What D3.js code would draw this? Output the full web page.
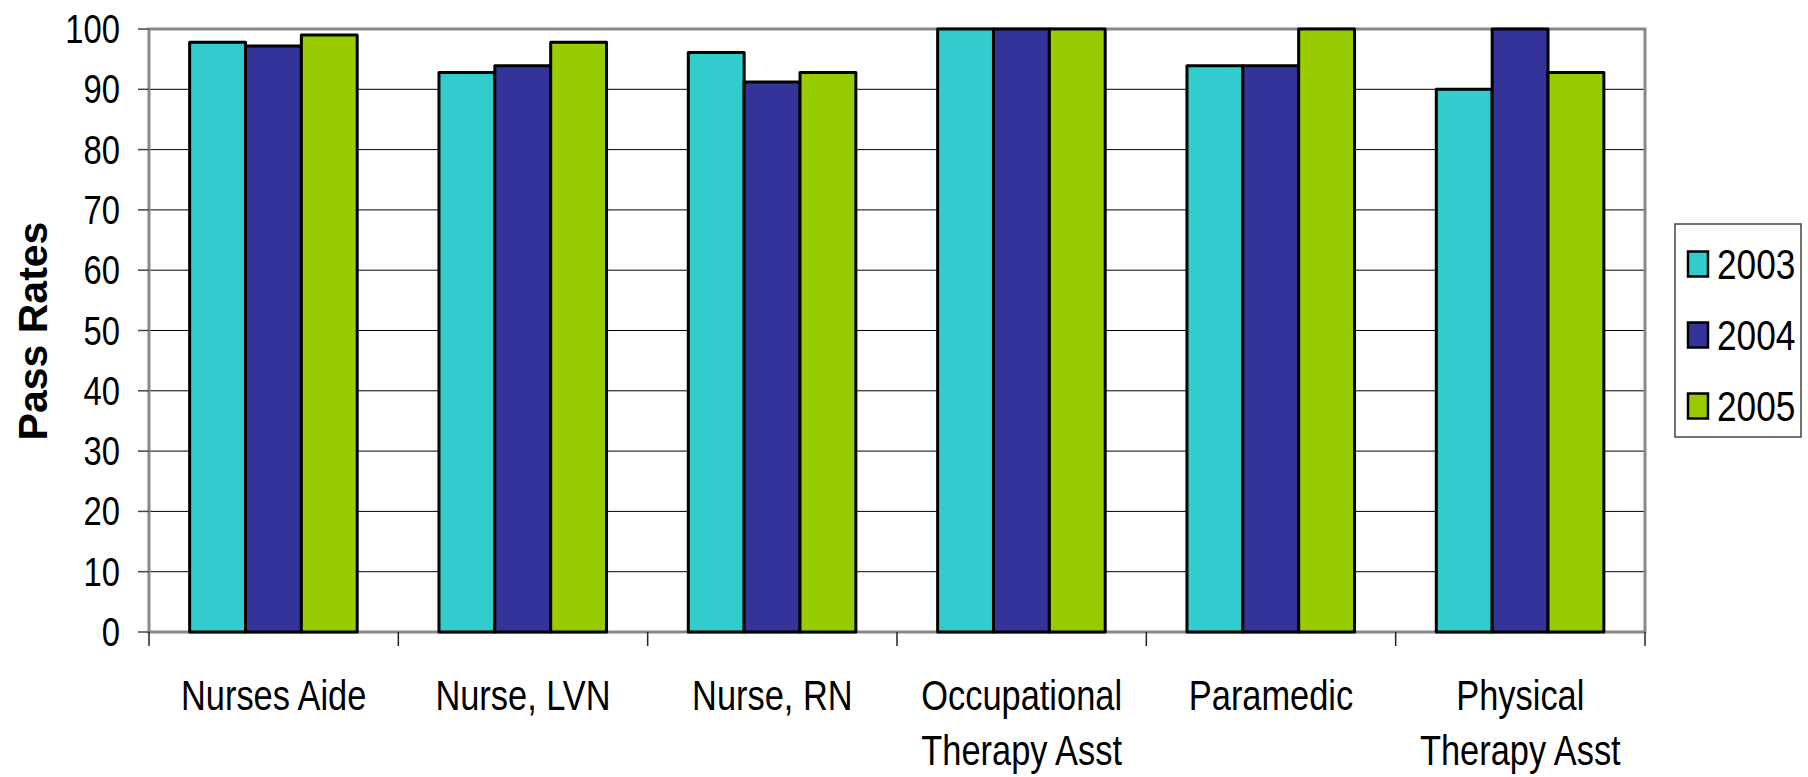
<!DOCTYPE html>
<html>
<head>
<meta charset="utf-8">
<script src="https://cdn.jsdelivr.net/npm/d3@7"></script>
<style>
  html, body { margin: 0; padding: 0; background: #fff; }
  svg { display: block; font-family: "Liberation Sans", Arial, sans-serif; }
</style>
</head>
<body>
<svg id="chart" width="1808" height="777"></svg>
<script>
const categories = [
  ["Nurses Aide"],
  ["Nurse, LVN"],
  ["Nurse, RN"],
  ["Occupational", "Therapy Asst"],
  ["Paramedic"],
  ["Physical", "Therapy Asst"]
];
const seriesNames = ["2003", "2004", "2005"];
const values2003 = [97.8, 92.8, 96.1, 100, 93.9, 90.0];
const values2004 = [97.2, 93.9, 91.2, 100, 93.9, 100];
const values2005 = [99.0, 97.8, 92.8, 100, 100, 92.8];
const seriesValues = [values2003, values2004, values2005];
const colors = ["#33CCCC", "#333399", "#99CC00"];
const yTicks = [0, 10, 20, 30, 40, 50, 60, 70, 80, 90, 100];
const yTitle = "Pass Rates";

const svg = d3.select("#chart");
const pLeft = 149, pRight = 1645, pTop = 29, pBottom = 632;

const catKeys = categories.map(c => c.join(" "));
const x0 = d3.scaleBand().domain(catKeys).range([pLeft, pRight]).padding(0);
const bw = x0.bandwidth();
const x1 = d3.scaleBand().domain(seriesNames).range([bw * 0.163, bw * 0.835]).padding(0);
const y = d3.scaleLinear().domain([0, 100]).range([pBottom, pTop]);

// gridlines
svg.append("g").selectAll("line").data(yTicks.filter(t => t > 0 && t < 100)).join("line")
  .attr("x1", pLeft).attr("x2", pRight)
  .attr("y1", d => y(d)).attr("y2", d => y(d))
  .attr("stroke", "#000").attr("stroke-width", 1);

// plot frame
svg.append("rect").attr("x", pLeft).attr("y", pTop)
  .attr("width", pRight - pLeft).attr("height", pBottom - pTop)
  .attr("fill", "none").attr("stroke", "#888").attr("stroke-width", 3);

// y ticks
svg.append("g").selectAll("line").data(yTicks).join("line")
  .attr("x1", pLeft - 11).attr("x2", pLeft)
  .attr("y1", d => y(d)).attr("y2", d => y(d))
  .attr("stroke", "#444").attr("stroke-width", 1.5);

// x ticks at band boundaries
const boundaries = catKeys.map(k => x0(k)).concat([pRight]);
svg.append("g").selectAll("line").data(boundaries).join("line")
  .attr("x1", d => d).attr("x2", d => d)
  .attr("y1", pBottom).attr("y2", pBottom + 14)
  .attr("stroke", "#222").attr("stroke-width", 1.5);

// bars
const groups = svg.append("g").selectAll("g").data(catKeys).join("g")
  .attr("transform", d => `translate(${x0(d)},0)`);
groups.selectAll("rect")
  .data((d, i) => seriesNames.map((s, j) => ({ s, v: seriesValues[j][i], c: colors[j] })))
  .join("rect")
  .attr("x", d => x1(d.s))
  .attr("width", x1.bandwidth())
  .attr("y", d => y(d.v))
  .attr("height", d => y(0) - y(d.v))
  .attr("fill", d => d.c)
  .attr("stroke", "#000").attr("stroke-width", 3)
  .attr("stroke-linejoin", "round");

// y tick labels
svg.append("g").selectAll("text").data(yTicks).join("text")
  .attr("transform", d => `translate(120,${y(d)}) scale(0.82,1)`)
  .attr("text-anchor", "end").attr("dy", "0.35em")
  .attr("font-size", 40).attr("fill", "#000")
  .text(d => d);

// x category labels
const xl = svg.append("g").selectAll("g").data(categories).join("g")
  .attr("transform", (d, i) => `translate(${x0(catKeys[i]) + bw / 2},0)`);
xl.each(function(lines) {
  const g = d3.select(this);
  lines.forEach((ln, k) => {
    g.append("text")
      .attr("transform", `translate(0,${710 + k * 55}) scale(0.8,1)`)
      .attr("text-anchor", "middle")
      .attr("font-size", 43).attr("fill", "#000")
      .text(ln);
  });
});

// y axis title
svg.append("text")
  .attr("transform", "translate(47,331) rotate(-90)")
  .attr("text-anchor", "middle")
  .attr("font-size", 41).attr("font-weight", "bold").attr("fill", "#000")
  .text(yTitle);

// legend
const lg = svg.append("g");
lg.append("rect").attr("x", 1675).attr("y", 224).attr("width", 126).attr("height", 213)
  .attr("fill", "#fff").attr("stroke", "#444").attr("stroke-width", 1.5);
const items = lg.selectAll("g").data(seriesNames).join("g")
  .attr("transform", (d, i) => `translate(0,${263.5 + i * 71})`);
items.append("rect").attr("x", 1688).attr("y", -12).attr("width", 20).attr("height", 25)
  .attr("fill", (d, i) => colors[i]).attr("stroke", "#000").attr("stroke-width", 2.5);
items.append("text")
  .attr("transform", "translate(1717,0) scale(0.84,1)")
  .attr("dy", "0.36em")
  .attr("font-size", 42).attr("fill", "#000")
  .text(d => d);
</script>
</body>
</html>
